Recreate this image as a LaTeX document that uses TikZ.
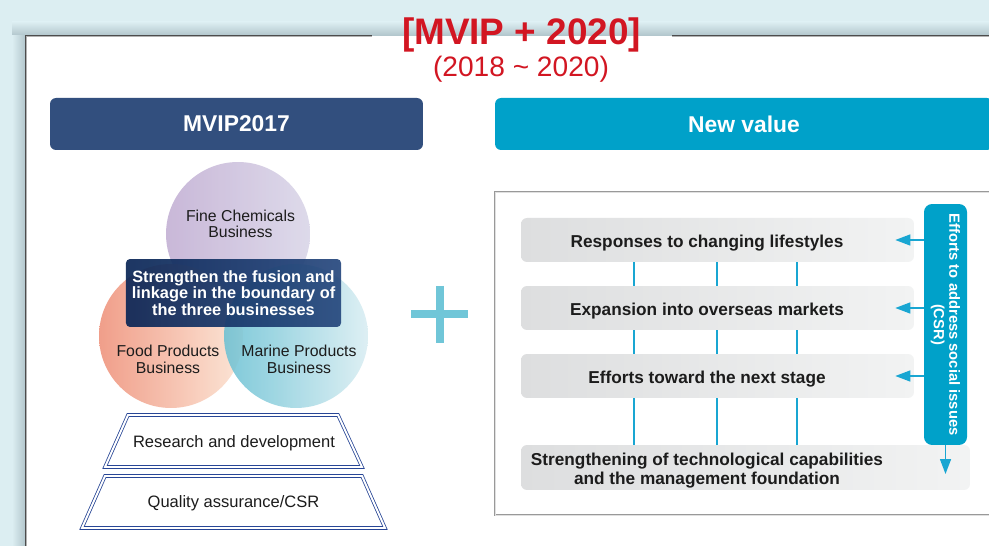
\documentclass[tikz,border=0pt]{standalone}
\usepackage{fontspec}
\setmainfont{Liberation Sans}
\usepackage{tikz}
\usetikzlibrary{arrows.meta}
\definecolor{bgblue}{RGB}{220,238,242}
\definecolor{shadowblue}{RGB}{176,196,202}
\definecolor{mred}{RGB}{210,22,34}
\definecolor{navy}{RGB}{50,79,126}
\definecolor{cyanhd}{RGB}{0,161,201}
\definecolor{linkblue}{RGB}{25,166,210}
\definecolor{txt}{RGB}{28,28,28}
\definecolor{trapblue}{RGB}{40,70,150}
\definecolor{plusblue}{RGB}{112,198,216}
\definecolor{boxl}{RGB}{221,222,223}
\definecolor{boxr}{RGB}{242,243,243}
\definecolor{finel}{RGB}{192,172,210}
\definecolor{finer}{RGB}{216,212,231}
\definecolor{foodl}{RGB}{238,142,118}
\definecolor{foodr}{RGB}{252,226,208}
\definecolor{marl}{RGB}{104,192,211}
\definecolor{marr}{RGB}{216,237,242}
\definecolor{corel}{RGB}{10,38,86}
\definecolor{corer}{RGB}{38,72,126}

\begin{document}
\begin{tikzpicture}[x=0.02cm,y=-0.02cm,
  frame/.style={draw=black!70,double=black!30,double distance=0.4pt,line width=0.45pt},
  panel/.style={draw=black!40,double=black!12,double distance=0.5pt,line width=0.5pt},
  header/.style={rounded corners=0.12cm,minimum height=1.04cm,text=white,font=\fontsize{13}{15}\selectfont\bfseries},
  graybox/.style={rounded corners=0.12cm,minimum height=0.88cm,left color=boxl,right color=boxr},
  boxtxt/.style={text=txt,font=\fontsize{9.8}{10.8}\selectfont\bfseries,align=center},
  venntxt/.style={text=txt,font=\fontsize{9}{9.4}\selectfont,align=center},
  trap/.style={draw=trapblue,double=white,double distance=1.1pt,line width=0.45pt},
  vline/.style={draw=linkblue,line width=0.03cm},
  csrarrow/.style={draw=linkblue,line width=0.03cm,-{Triangle[length=0.3cm,width=0.22cm]}}]
\clip (0,0) rectangle (989,546);
\fill[bgblue] (0,0) rectangle (989,546);
\shade[top color=bgblue,bottom color=shadowblue] (12,22) rectangle (989,36);
\shade[left color=bgblue,right color=shadowblue] (12,36) rectangle (26,546);
\fill[white] (26,36) rectangle (989,546);
\draw[frame] (26,546) -- (26,36) -- (372,36);
\draw[frame] (672,36) -- (989,36);
\node[anchor=base,text=mred,font=\fontsize{21}{24}\selectfont\bfseries] (title) at (521.5,45) {[MVIP + 2020]};
\node[anchor=base,text=mred,font=\fontsize{16}{19}\selectfont] (period) at (521,77) {(2018 \textasciitilde{} 2020)};
\node[header,fill=navy,minimum width=7.46cm] (mvip) at (236.5,124) {MVIP2017};
\node[header,fill=cyanhd,minimum width=9.96cm] (newval) at (744,124) {New value};
\shade[left color=finel,right color=finer,opacity=0.85] (238,234) circle (1.44cm);
\shade[left color=foodl,right color=foodr,opacity=0.85] (171,336) circle (1.44cm);
\shade[left color=marl,right color=marr,opacity=0.85] (296,336) circle (1.44cm);
\node[venntxt] (fine) at (240.5,224) {Fine Chemicals\\Business};
\node[venntxt] (food) at (168,359.5) {Food Products\\Business};
\node[venntxt] (marine) at (299,359.5) {Marine Products\\Business};
\node[rounded corners=0.08cm,left color=corel,right color=corer,fill opacity=0.92,text opacity=1,
  minimum width=4.22cm,minimum height=1.36cm,text=white,align=center,
  font=\fontsize{9.3}{9.2}\selectfont\bfseries] (core) at (233.5,293)
  {Strengthen the fusion and\\linkage in the boundary of\\the three businesses};
\draw[trap] (128,415) -- (338,415) -- (362,467) -- (105,467) -- cycle;
\node[venntxt,font=\fontsize{9.4}{11}\selectfont] (rd) at (234,443) {Research and development};
\draw[trap] (105,476) -- (362,476) -- (385,528) -- (82,528) -- cycle;
\node[venntxt,font=\fontsize{9.4}{11}\selectfont] (qa) at (233.5,503) {Quality assurance/CSR};
\draw[plusblue,line width=0.16cm] (411,314) -- (468,314);
\draw[plusblue,line width=0.16cm] (440,286) -- (440,343);
\draw[panel] (495,192) rectangle (1000,515);
\node[graybox,minimum width=7.86cm] (g1) at (717.5,240) {};
\node[graybox,minimum width=7.86cm] (g2) at (717.5,308) {};
\node[graybox,minimum width=7.86cm] (g3) at (717.5,376) {};
\node[graybox,minimum width=8.98cm,minimum height=0.9cm] (g4) at (745.5,467.5) {};
\node[boxtxt,anchor=base] (t1) at (707,247.5) {Responses to changing lifestyles};
\node[boxtxt,anchor=base] (t2) at (707,315.5) {Expansion into overseas markets};
\node[boxtxt,anchor=base] (t3) at (707,383.5) {Efforts toward the next stage};
\node[boxtxt] (t4) at (707,470.5) {Strengthening of technological capabilities\\and the management foundation};
\foreach \x in {634,717,797}
  \foreach \a/\b in {g1/g2,g2/g3,g3/g4}
  {\coordinate (v) at (\x,0);
   \draw[vline] (v |- \a.south) -- (v |- \b.north);}
\node[rotate=-90,fill=cyanhd,rounded corners=0.16cm,minimum width=4.82cm,minimum height=0.86cm,
  inner sep=1pt,text=white,align=center,font=\fontsize{8.4}{8.8}\selectfont\bfseries] (csr)
  at (945.5,324.5) {Efforts to address social issues\\(CSR)};
\foreach \g in {g1,g2,g3}
  \draw[csrarrow] (csr.south |- \g.center) -- ([xshift=-0.38cm]\g.east);
\coordinate (csrend) at (945.5,474);
\draw[csrarrow] (csr.east) -- (csrend);
\end{tikzpicture}
\end{document}
